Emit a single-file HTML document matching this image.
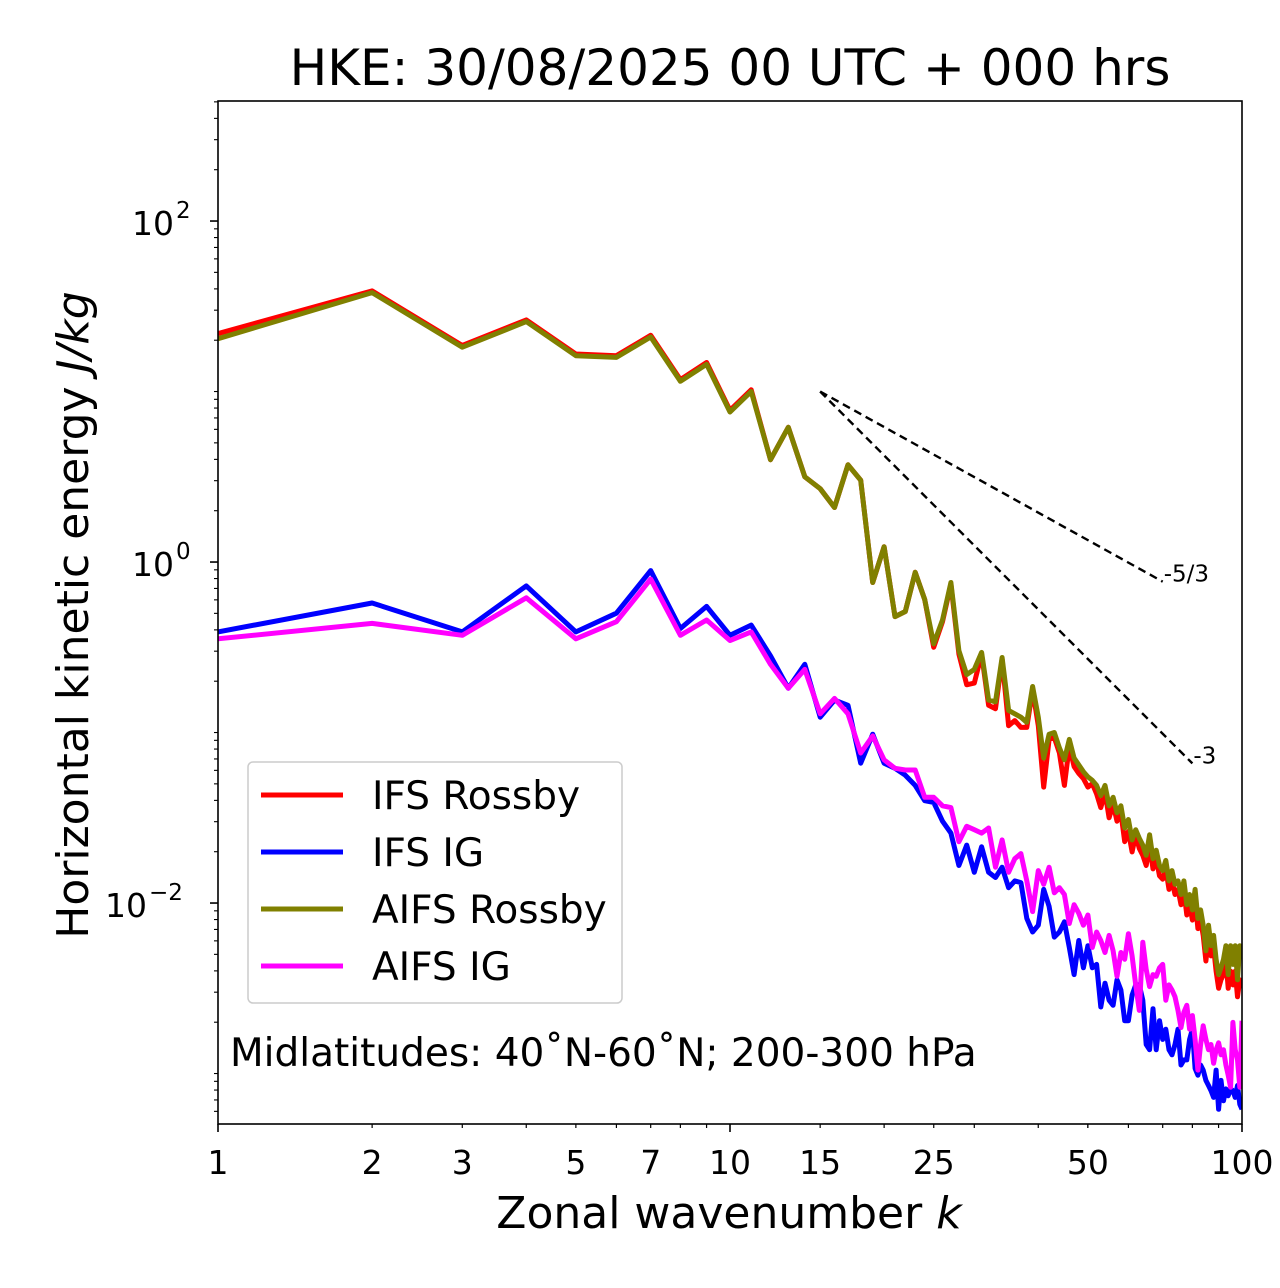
<!DOCTYPE html>
<html><head><meta charset="utf-8"><style>
body{margin:0;background:#fff}
svg{display:block;font-family:"DejaVu Sans","Liberation Sans",sans-serif}
</style></head><body>
<svg id="chart" width="1280" height="1288" viewBox="0 0 1280 1288" xmlns="http://www.w3.org/2000/svg">
<text x="730" y="85" font-size="50" text-anchor="middle">HKE: 30/08/2025 00 UTC + 000 hrs</text>
<g id="plot"></g>
<text x="729" y="1228" font-size="44" text-anchor="middle">Zonal wavenumber <tspan font-style="italic">k</tspan></text>
<text transform="translate(88,615) rotate(-90)" font-size="44" text-anchor="middle">Horizontal kinetic energy <tspan font-style="italic">J/kg</tspan></text>
</svg>
<script>
const ifsRossbyLog10=[1.34,1.59,1.27,1.42,1.22,1.21,1.33,1.07,1.17,0.89,1.01,0.60,0.79,0.50,0.43,0.32,0.57,0.48,-0.12,0.09,-0.32,-0.29,-0.06,-0.22,-0.50,-0.35,-0.13,-0.54,-0.72,-0.71,-0.54,-0.84,-0.86,-0.57,-0.96,-0.93,-0.97,-0.97,-0.75,-0.96,-1.32,-1.04,-1.03,-1.12,-1.31,-1.08,-1.20,-1.24,-1.27,-1.32,-1.30,-1.36,-1.44,-1.35,-1.50,-1.42,-1.52,-1.47,-1.64,-1.58,-1.70,-1.60,-1.68,-1.72,-1.78,-1.66,-1.80,-1.74,-1.84,-1.86,-1.80,-1.92,-1.87,-1.95,-1.92,-2.01,-1.93,-2.07,-2.01,-2.10,-1.98,-2.15,-2.10,-2.19,-2.34,-2.20,-2.31,-2.26,-2.40,-2.50,-2.45,-2.42,-2.33,-2.50,-2.40,-2.48,-2.40,-2.55,-2.45,-2.50];
const ifsIGLog10=[-0.41,-0.24,-0.41,-0.14,-0.41,-0.30,-0.05,-0.39,-0.26,-0.43,-0.37,-0.55,-0.74,-0.60,-0.91,-0.81,-0.84,-1.18,-1.01,-1.18,-1.21,-1.25,-1.31,-1.40,-1.41,-1.52,-1.59,-1.78,-1.66,-1.82,-1.67,-1.82,-1.85,-1.79,-1.91,-1.87,-1.88,-2.09,-2.17,-2.13,-1.92,-2.02,-2.20,-2.17,-2.11,-2.26,-2.42,-2.22,-2.38,-2.25,-2.38,-2.36,-2.61,-2.47,-2.57,-2.60,-2.45,-2.51,-2.69,-2.69,-2.54,-2.48,-2.48,-2.57,-2.83,-2.86,-2.62,-2.86,-2.69,-2.80,-2.74,-2.86,-2.89,-2.83,-2.74,-2.95,-2.92,-2.92,-2.80,-2.74,-2.97,-3.01,-2.95,-2.98,-3.04,-3.07,-3.10,-3.14,-2.98,-3.21,-3.04,-3.16,-3.09,-3.13,-3.09,-3.10,-3.14,-3.07,-3.18,-3.21];
const aifsRossbyLog10=[1.31,1.58,1.26,1.41,1.21,1.20,1.32,1.06,1.16,0.88,1.00,0.60,0.79,0.50,0.43,0.32,0.57,0.48,-0.12,0.09,-0.32,-0.29,-0.06,-0.22,-0.48,-0.34,-0.12,-0.52,-0.66,-0.63,-0.53,-0.81,-0.82,-0.56,-0.87,-0.89,-0.91,-0.94,-0.73,-0.91,-1.15,-1.01,-1.00,-1.09,-1.16,-1.04,-1.15,-1.19,-1.23,-1.26,-1.28,-1.31,-1.37,-1.31,-1.43,-1.38,-1.47,-1.43,-1.56,-1.51,-1.63,-1.57,-1.62,-1.66,-1.72,-1.60,-1.74,-1.69,-1.78,-1.81,-1.75,-1.87,-1.81,-1.89,-1.87,-1.95,-1.87,-2.01,-1.95,-2.04,-1.92,-2.09,-2.04,-2.13,-2.28,-2.13,-2.25,-2.19,-2.33,-2.42,-2.38,-2.33,-2.25,-2.42,-2.25,-2.36,-2.25,-2.45,-2.25,-2.33];
const aifsIGLog10=[-0.45,-0.36,-0.43,-0.21,-0.45,-0.35,-0.10,-0.43,-0.34,-0.46,-0.41,-0.60,-0.74,-0.63,-0.89,-0.80,-0.89,-1.12,-1.02,-1.16,-1.21,-1.22,-1.22,-1.38,-1.38,-1.43,-1.44,-1.64,-1.55,-1.57,-1.59,-1.56,-1.79,-1.63,-1.82,-1.74,-1.71,-1.87,-2.05,-1.81,-1.89,-1.79,-1.94,-1.91,-1.95,-2.12,-2.01,-2.06,-2.13,-2.07,-2.26,-2.17,-2.22,-2.29,-2.19,-2.28,-2.43,-2.29,-2.33,-2.18,-2.31,-2.48,-2.63,-2.23,-2.39,-2.49,-2.42,-2.43,-2.38,-2.36,-2.57,-2.48,-2.51,-2.55,-2.63,-2.73,-2.64,-2.60,-2.74,-2.66,-2.80,-2.98,-2.83,-2.72,-2.80,-2.86,-2.83,-2.94,-2.86,-2.82,-2.89,-2.86,-2.95,-3.01,-3.08,-2.70,-2.86,-2.92,-3.08,-2.69];
const xTickValues=[1,2,3,5,7,10,15,25,50,100];
const xTickLabels=["1","2","3","5","7","10","15","25","50","100"];
const yMajorExp=[-2,0,2];
const slopeRefs=[{s:-5/3,k1:70,label:"-5/3"},{s:-3,k1:80,label:"-3"}];
const refK0=15, refE0Log=1.0;

const L=218,R=1242,T=101,B=1124;
const xs=k=>L+(R-L)*Math.log10(k)/2;
const yMinLog=-3.296,yMaxLog=2.704;
const ys=lg=>B-(lg-yMinLog)/(yMaxLog-yMinLog)*(B-T);
const NS="http://www.w3.org/2000/svg";
const plot=document.getElementById('plot');
function mk(tag,at,parent){const e=document.createElementNS(NS,tag);for(const k in at)e.setAttribute(k,at[k]);(parent||plot).appendChild(e);return e;}

const series=[
 {d:ifsRossbyLog10,c:"#ff0000",n:"ifs-rossby-line"},
 {d:ifsIGLog10,c:"#0000ff",n:"ifs-ig-line"},
 {d:aifsRossbyLog10,c:"#808000",n:"aifs-rossby-line"},
 {d:aifsIGLog10,c:"#ff00ff",n:"aifs-ig-line"}];
const clip=mk('clipPath',{id:'pc'});mk('rect',{x:L,y:T,width:R-L,height:B-T},clip);
series.forEach(s=>{
 const pts=s.d.map((v,i)=>xs(i+1).toFixed(1)+","+ys(v).toFixed(1)).join(" ");
 const p=mk('polyline',{points:pts,fill:"none",stroke:s.c,"stroke-width":5,"stroke-linejoin":"round","clip-path":"url(#pc)"});
 
 
});
slopeRefs.forEach(r=>{
 const y1=refE0Log+r.s*(Math.log10(r.k1)-Math.log10(refK0));
 const ln=mk('line',{x1:xs(refK0),y1:ys(refE0Log),x2:xs(r.k1),y2:ys(y1),stroke:"#000","stroke-width":2.4,"stroke-dasharray":"8,5"});
 
 
 const t=mk('text',{x:xs(r.k1)+1,y:ys(y1)+0,"font-size":23});
 t.textContent=r.label;
 
 
});
const fr=mk('rect',{x:L,y:T,width:R-L,height:B-T,fill:"none",stroke:"#000","stroke-width":1.6});


for(let k=1;k<=100;k++){
 const major=(k===1||k===10||k===100);
 if(!(k<10||k%10===0))continue;
 mk('line',{x1:xs(k),x2:xs(k),y1:B,y2:B+(major?8:4),stroke:"#000","stroke-width":major?1.6:1.2});
}
[15,25,50].forEach(k=>mk('line',{x1:xs(k),x2:xs(k),y1:B,y2:B+4,stroke:"#000","stroke-width":1.2}));
xTickValues.forEach((k,i)=>{
 const t=mk('text',{x:xs(k),y:B+50,"font-size":33,"text-anchor":"middle"});
 t.textContent=xTickLabels[i];
 
 
});
for(let e=-4;e<=2;e++){for(let m=1;m<10;m++){
 const lg=e+Math.log10(m);if(lg<yMinLog||lg>yMaxLog)continue;
 const major=m===1&&e%2===0;
 mk('line',{x1:L,x2:L-(major?8:4),y1:ys(lg),y2:ys(lg),stroke:"#000","stroke-width":major?1.6:1.1});
}}
yMajorExp.forEach(e=>{
 const neg=e<0;
 const t=mk('text',{x:neg?147:174,y:ys(e)+14,"font-size":33,"text-anchor":"end"});
 t.textContent="10";
 
 
 const s=mk('text',{x:neg?149:176,y:ys(e)-3,"font-size":23,"text-anchor":"start"});
 s.textContent=(neg?"\u2212":"")+Math.abs(e);
});
const lg=mk('g',{});


mk('rect',{x:248,y:762,width:374,height:241,rx:5,fill:"#fff",stroke:"#ccc","stroke-width":1.5},lg);
const names=["IFS Rossby","IFS IG","AIFS Rossby","AIFS IG"];
series.forEach((s,i)=>{
 const y=795+i*57;
 mk('line',{x1:261,x2:343,y1:y,y2:y,stroke:s.c,"stroke-width":5},lg);
 const t=mk('text',{x:372,y:y+14,"font-size":39},lg);
 t.textContent=names[i];
 
 
});
const an=mk('text',{x:230,y:1066,"font-size":39});
an.textContent="Midlatitudes: 40\u02DAN-60\u02DAN; 200-300 hPa";


</script>
</body></html>
